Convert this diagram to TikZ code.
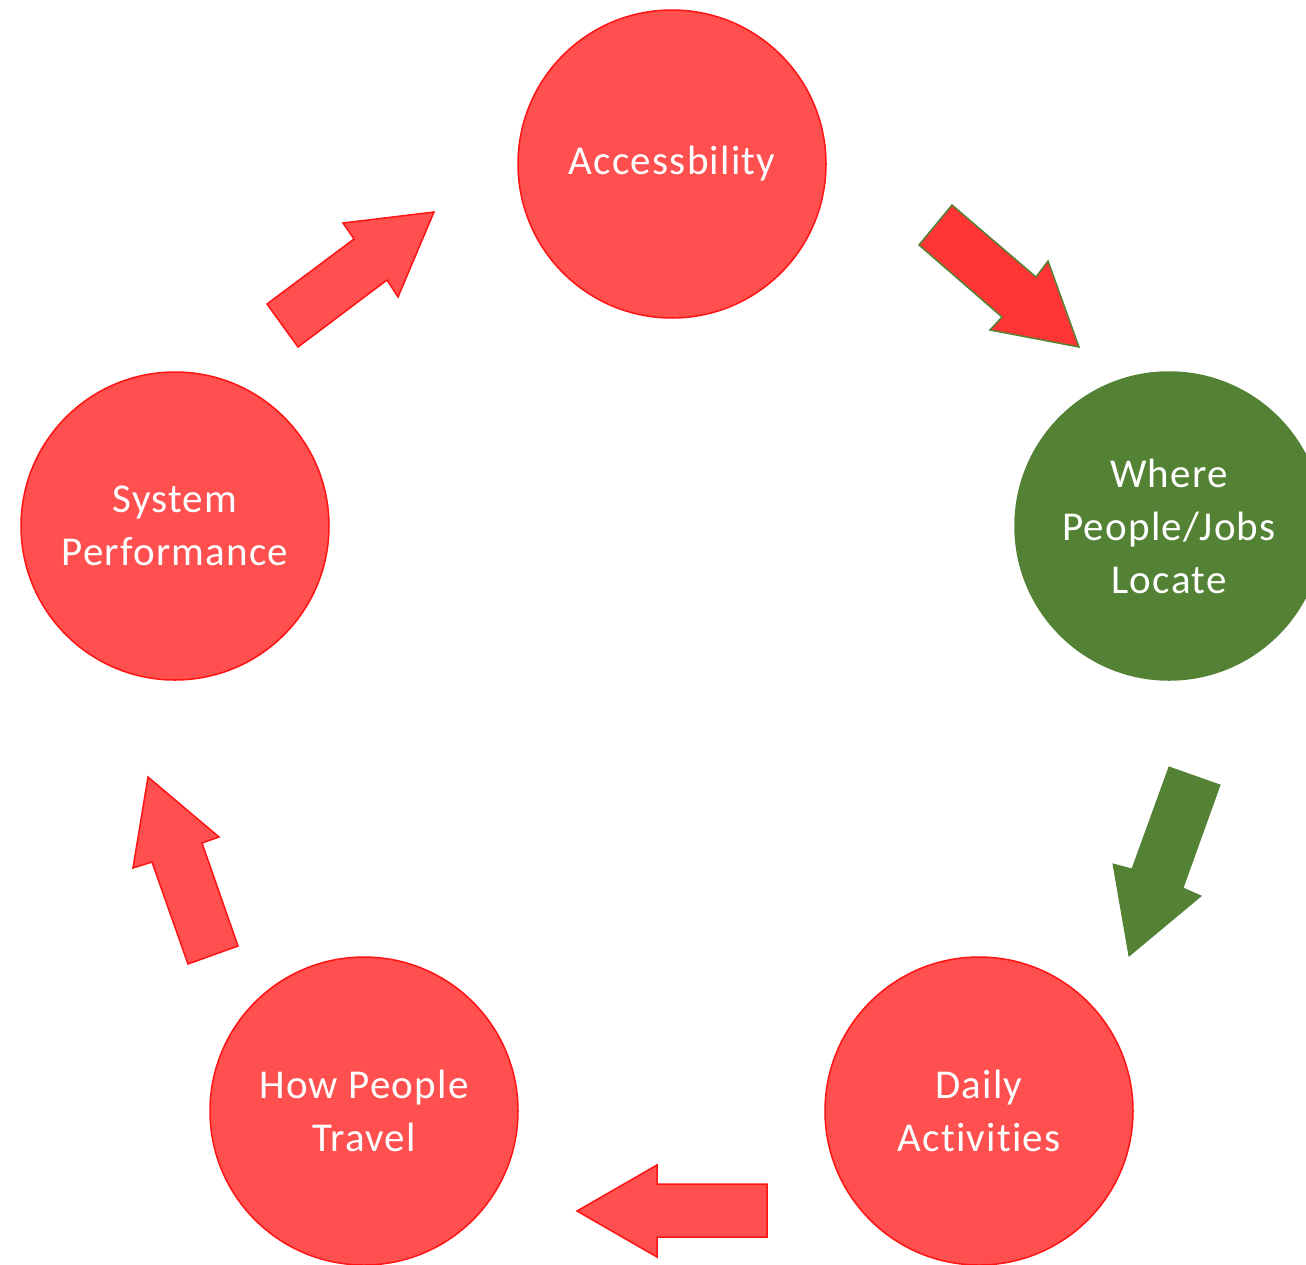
\documentclass[tikz,border=0pt]{standalone}
\usepackage{fontspec}
\setmainfont{Carlito}[Ligatures=NoCommon,LetterSpace=3]
\definecolor{cfill}{RGB}{255,79,79}
\definecolor{cline}{RGB}{255,20,20}
\definecolor{gfill}{RGB}{84,130,53}
\definecolor{afill}{RGB}{255,52,52}
\begin{document}
\begin{tikzpicture}[x=1pt,y=-1pt,
  stage/.style={circle,minimum size=308pt,inner sep=0pt,fill=cfill,draw=cline,line width=1.5pt,
    text=white,font=\fontsize{41}{53}\selectfont,align=center},
  greenstage/.style={stage,fill=gfill,draw=gfill},
  redarrow/.style={fill=cfill,draw=cline,line width=1.5pt,line join=miter},
  hotarrow/.style={fill=afill,draw=gfill,line width=1.5pt,line join=miter},
  greenarrow/.style={fill=gfill,draw=gfill,line width=1pt,line join=miter}]
\useasboundingbox (0,0) rectangle (1306,1264);
\clip (0,0) rectangle (1306,1264);
\node[stage] (acc) at (672,164) {Accessbility};
\node[greenstage] (where) at (1169,526) {Where\\People/Jobs\\Locate};
\node[stage] (daily) at (979,1111) {Daily\\Activities};
\node[stage] (how) at (364,1111) {How People\\Travel};
\node[stage] (sys) at (175,526) {System\\Performance};
% block arrows
\draw[hotarrow] (952,205) -- (1036,277) -- (1048,261) -- (1079,347) -- (990,330) -- (1002,317) -- (919,245) -- cycle;
\draw[greenarrow] (1169,767) -- (1220,785) -- (1183,888) -- (1201,896) -- (1129,956) -- (1113,864) -- (1132,869) -- cycle;
\draw[redarrow] (767,1184) -- (657,1184) -- (657,1165) -- (577,1211) -- (657,1257) -- (657,1237) -- (767,1237) -- cycle;
\draw[redarrow] (238,946) -- (202,843) -- (219,837) -- (148,777) -- (133,868) -- (152,862) -- (188,964) -- cycle;
\draw[redarrow] (267,304) -- (354,239) -- (343,223) -- (434,212) -- (398,297) -- (387,280) -- (298,347) -- cycle;
\end{tikzpicture}
\end{document}
